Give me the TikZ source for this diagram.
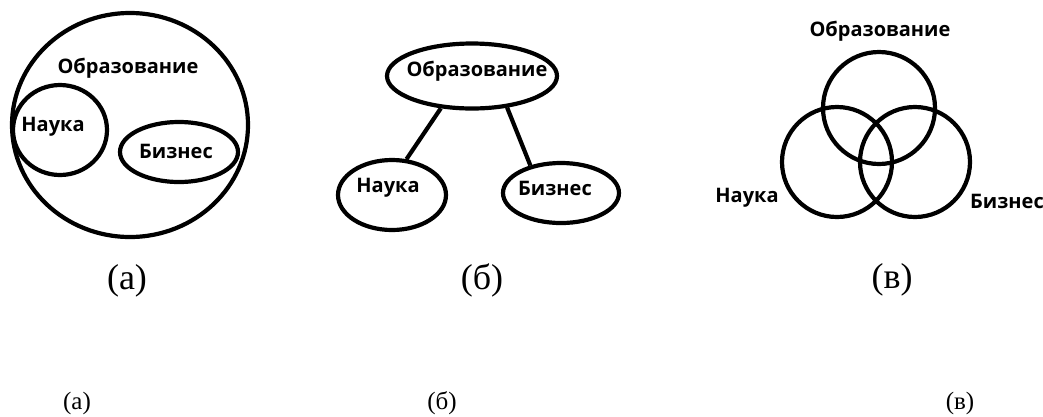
\documentclass[tikz,border=0pt]{standalone}
\usepackage{fontspec}
\setmainfont{Liberation Serif}
\newfontfamily\lblfont{Open Sans}
\usetikzlibrary{shapes.geometric}

\tikzset{every picture/.style={line width=4.2pt}}
\tikzset{
	lbl/.style={font=\lblfont\bfseries\fontsize{20}{24}\selectfont, inner sep=0pt},
	capbig/.style={font=\fontsize{36}{40}\selectfont, inner sep=0pt},
	capsmall/.style={font=\fontsize{25}{30}\selectfont, inner sep=0pt},
	oval/.style={ellipse, draw, inner sep=0pt}}

\begin{document}
\begin{tikzpicture}[x=1pt,y=1pt,yscale=-1,xscale=1]
	\useasboundingbox (0,0) rectangle (1043,416);

	% ---------- (a) ----------
	%Shape: Ellipse [outer]
	\draw  (130,125) ellipse (118 and 112) ;
	%Shape: Ellipse [nauka]
	\draw  (60,130) ellipse (47 and 45) ;
	%Shape: Ellipse [biznes]
	\draw  (179,152) ellipse (59 and 30) ;

	% Text Node
	\draw (128,68) node[lbl] (obrA) {Образование};
	% Text Node
	\draw (53,127) node[lbl] (naukaA) {Наука};
	% Text Node
	\draw (176,151) node[lbl] (biznesA) {Бизнес};
	% Text Node
	\draw (127,281) node[capbig] (capA) {(а)};

	% ---------- (б) ----------
	%Shape: Ellipse
	\node[oval, minimum width=170, minimum height=65] (obrB) at (472,76) {};
	%Shape: Ellipse
	\node[oval, minimum width=108, minimum height=70] (naukaB) at (392,195) {};
	%Shape: Ellipse
	\node[oval, minimum width=116, minimum height=60] (biznesB) at (561,193) {};
	%Straight Lines
	\draw    (obrB.226) -- (naukaB.68) ;
	%Straight Lines
	\draw    (obrB.318) -- (biznesB.138) ;

	% Text Node
	\draw (477,71) node[lbl] (obrBt) {Образование};
	% Text Node
	\draw (388,188) node[lbl] (naukaBt) {Наука};
	% Text Node
	\draw (555,188) node[lbl] (biznesBt) {Бизнес};
	% Text Node
	\draw (482,280) node[capbig] (capB) {(б)};

	% ---------- (в) ----------
	%Shape: Circle
	\draw  (879,108) circle (56) ;
	%Shape: Circle
	\draw  (837,162) circle (55) ;
	%Shape: Circle
	\draw  (915,162) circle (55) ;

	% Text Node
	\draw (880,31) node[lbl] (obrC) {Образование};
	% Text Node
	\draw (747,198) node[lbl] (naukaC) {Наука};
	% Text Node
	\draw (1007,201) node[lbl] (biznesC) {Бизнес};
	% Text Node
	\draw (892,280) node[capbig] (capC) {(в)};

	% ---------- bottom captions ----------
	% Text Node
	\draw (77,403) node[capsmall] (subA) {(а)};
	% Text Node
	\draw (442,403) node[capsmall] (subB) {(б)};
	% Text Node
	\draw (960,403) node[capsmall] (subC) {(в)};

\end{tikzpicture}
\end{document}
